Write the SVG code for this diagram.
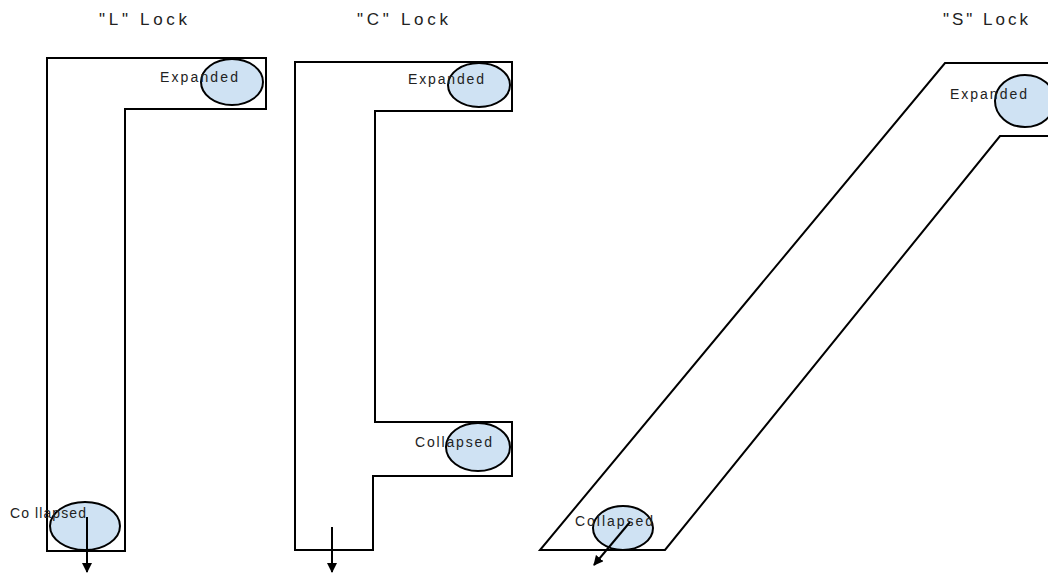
<svg xmlns="http://www.w3.org/2000/svg" width="1048" height="573" viewBox="0 0 1048 573">
  <style>
    .wall { fill: none; stroke: #000; stroke-width: 2; stroke-linejoin: miter; }
    .pos { fill: #cfe2f3; stroke: #000; stroke-width: 2; }
    .title { font-family: "Liberation Sans", Arial, sans-serif; font-size: 17px; fill: #222; }
    .lbl { font-family: "Liberation Sans", Arial, sans-serif; font-size: 14px; fill: #222; }
    .arrow { stroke: #000; stroke-width: 2; fill: none; }
  </style>
  <defs>
    <marker id="head" viewBox="0 0 10 10" refX="9" refY="5" markerWidth="5" markerHeight="5" orient="auto">
      <path d="M0,0 L10,5 L0,10 z" fill="#000"/>
    </marker>
  </defs>
  <rect width="1048" height="573" fill="#fff"/>

  <!-- titles -->
  <text class="title" x="99" y="25" textLength="88" lengthAdjust="spacing">"L" Lock</text>
  <text class="title" x="357" y="25" textLength="91" lengthAdjust="spacing">"C" Lock</text>
  <text class="title" x="943" y="25" textLength="85" lengthAdjust="spacing">"S" Lock</text>

  <!-- L-shaped lock -->
  <g id="l-lock">
    <path class="wall" d="M47,58 H266 V109 H125 V551 H47 Z"/>
    <ellipse class="pos" cx="232" cy="82" rx="31" ry="23"/>
    <text class="lbl" x="160" y="82" textLength="78" lengthAdjust="spacing">Expanded</text>
    <ellipse class="pos" cx="85" cy="526" rx="35" ry="24"/>
    <text class="lbl" x="10" y="518" textLength="76" lengthAdjust="spacing">Co llapsed</text>
  </g>

  <!-- C-shaped lock -->
  <g id="c-lock">
    <path class="wall" d="M295,62 H512 V111 H375 V422 H512 V476 H373 V550 H295 Z"/>
    <ellipse class="pos" cx="479" cy="85" rx="31" ry="22"/>
    <text class="lbl" x="408" y="84" textLength="76" lengthAdjust="spacing">Expanded</text>
    <ellipse class="pos" cx="478" cy="447" rx="32" ry="24"/>
    <text class="lbl" x="415" y="447" textLength="77" lengthAdjust="spacing">Collapsed</text>
  </g>

  <!-- S-shaped (slanted) lock -->
  <g id="s-lock">
    <path class="wall" d="M1048,63 H945 L540,550 H665 L1000,136 H1048"/>
    <ellipse class="pos" cx="1025" cy="101" rx="30" ry="26"/>
    <text class="lbl" x="950" y="99" textLength="77" lengthAdjust="spacing">Expanded</text>
    <ellipse class="pos" cx="623" cy="528" rx="30" ry="22"/>
    <text class="lbl" x="575" y="526" textLength="78" lengthAdjust="spacing">Collapsed</text>
  </g>

  <!-- exit arrows -->
  <g id="connectors">
    <line class="arrow" x1="87" y1="517" x2="87" y2="572" marker-end="url(#head)"/>
    <line class="arrow" x1="332" y1="527" x2="332" y2="572" marker-end="url(#head)"/>
    <line class="arrow" x1="630" y1="522" x2="594" y2="565" marker-end="url(#head)"/>
  </g>
</svg>
